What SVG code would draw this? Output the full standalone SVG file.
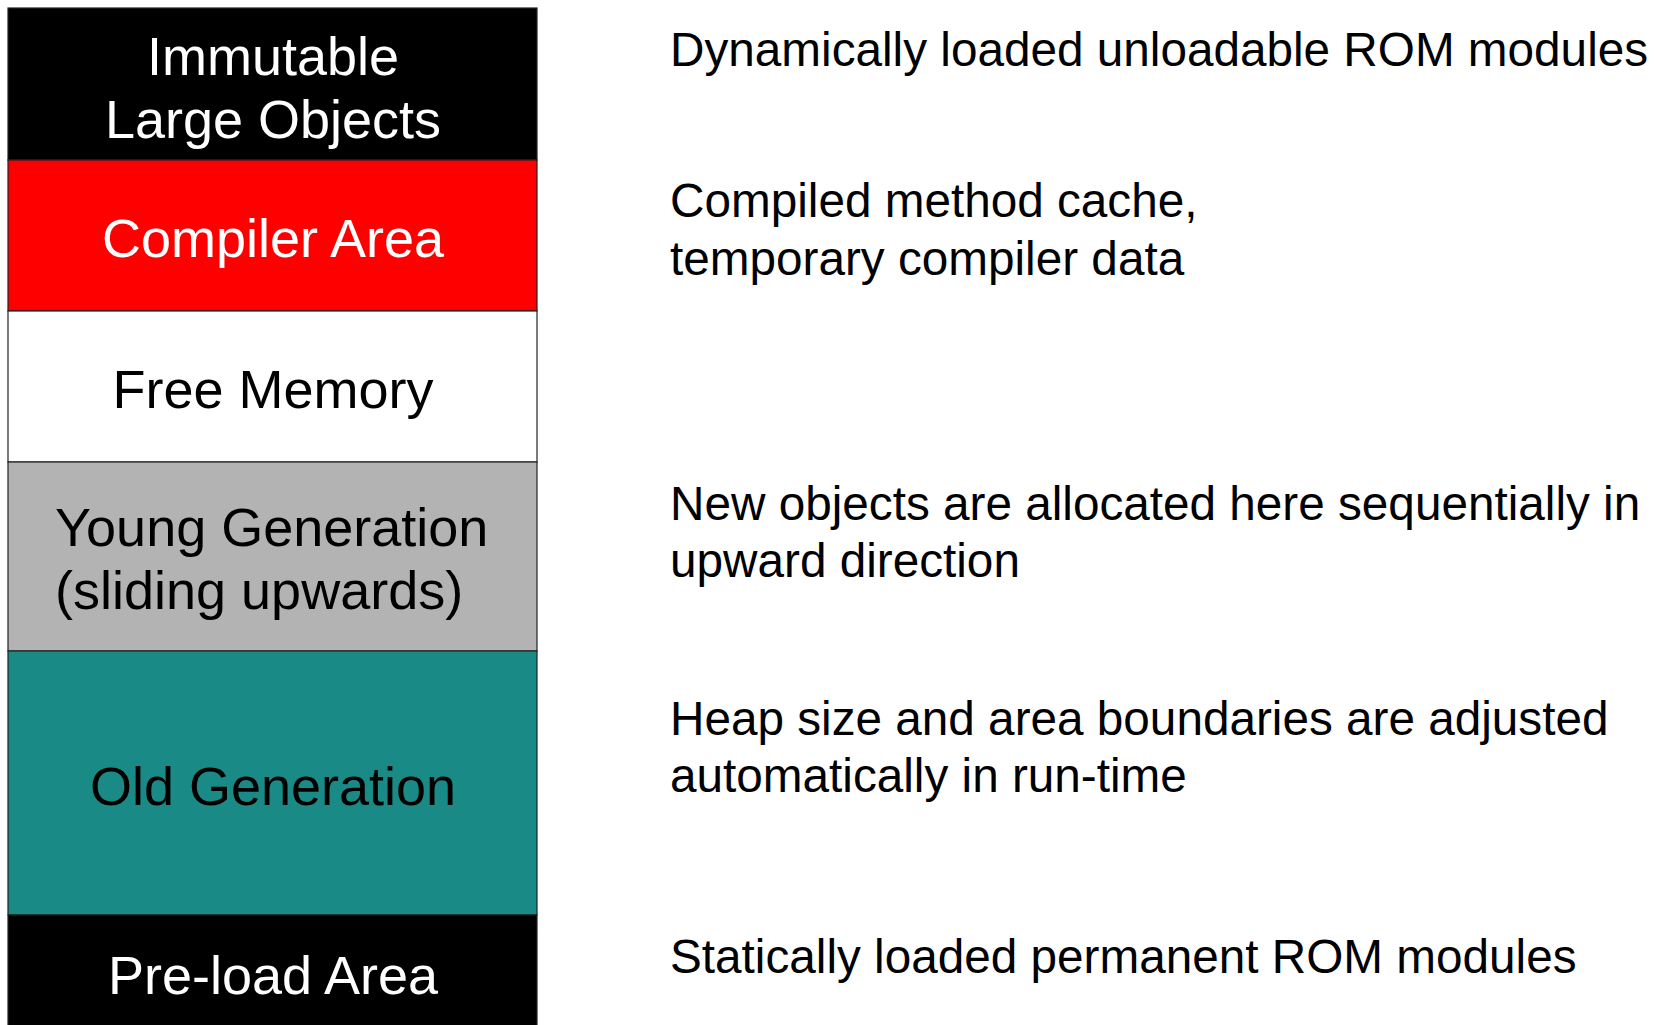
<svg xmlns="http://www.w3.org/2000/svg" width="1654" height="1025" viewBox="0 0 1654 1025">
  <style>
    .area { stroke: #222; stroke-width: 1.2; }
    .lbl { font-family: "Liberation Sans", Arial, sans-serif; font-size: 54px; text-anchor: middle; }
    .lbl-l { font-family: "Liberation Sans", Arial, sans-serif; font-size: 54px; }
    .note { font-family: "Liberation Sans", Arial, sans-serif; font-size: 47.7px; fill: #000; }
    .light { fill: #fff; }
    .dark { fill: #000; }
  </style>
  <rect width="1654" height="1025" fill="#fff"/>

  <!-- memory map column, top to bottom -->
  <g id="immutable-large-objects">
    <rect class="area" x="8" y="8" width="529" height="152" fill="#000"/>
    <text class="lbl light" x="273" y="75">Immutable</text>
    <text class="lbl light" x="273" y="138">Large Objects</text>
  </g>
  <g id="compiler-area">
    <rect class="area" x="8" y="160" width="529" height="151" fill="#ff0000"/>
    <text class="lbl light" x="273" y="257">Compiler Area</text>
  </g>
  <g id="free-memory">
    <rect class="area" x="8" y="311" width="529" height="151" fill="#fff"/>
    <text class="lbl dark" x="273" y="408">Free Memory</text>
  </g>
  <g id="young-generation">
    <rect class="area" x="8" y="462" width="529" height="189" fill="#b3b3b3"/>
    <text class="lbl-l dark" x="55" y="546">Young Generation</text>
    <text class="lbl-l dark" x="55" y="609">(sliding upwards)</text>
  </g>
  <g id="old-generation">
    <rect class="area" x="8" y="651" width="529" height="264" fill="#1a8a87"/>
    <text class="lbl dark" x="273" y="805">Old Generation</text>
  </g>
  <g id="preload-area">
    <rect class="area" x="8" y="915" width="529" height="115" fill="#000"/>
    <text class="lbl light" x="273" y="994">Pre-load Area</text>
  </g>

  <!-- descriptions beside each area -->
  <g id="notes">
    <text class="note" x="670" y="66">Dynamically loaded unloadable ROM modules</text>
    <text class="note" x="670" y="217">Compiled method cache,</text>
    <text class="note" x="670" y="275">temporary compiler data</text>
    <text class="note" x="670" y="520">New objects are allocated here sequentially in</text>
    <text class="note" x="670" y="577">upward direction</text>
    <text class="note" x="670" y="735">Heap size and area boundaries are adjusted</text>
    <text class="note" x="670" y="792">automatically in run-time</text>
    <text class="note" x="670" y="973">Statically loaded permanent ROM modules</text>
  </g>

  <g id="connectors"></g>
</svg>
